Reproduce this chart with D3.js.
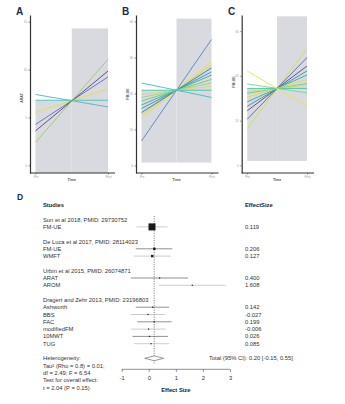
<!DOCTYPE html>
<html>
<head>
<meta charset="utf-8">
<script src="https://cdn.jsdelivr.net/npm/d3@7"></script>
<style>
  body { margin: 0; background: #fff; }
  svg { display: block; font-family: "Liberation Sans", Arial, sans-serif; }
</style>
</head>
<body>
<svg id="chart"></svg>
<script>
// ---- data: slope panels (Pre -> Post) ----
const timeLabels = ["Pre", "Post"];

const preA  = [7.40, 6.80, 5.52, 4.27, 3.60, 2.40];
const postA = [6.10, 6.80, 7.98, 9.23, 9.85, 11.07];
const colorsA = ["#5aaec8", "#3cc4b4", "#e6dc4a", "#5a70b8", "#5b3d84", "#8fd064"];
const shadeA = [-0.8, 6.8, 14.3];          // bottom, centre, top of grey boxes
const ticksA = [0, 5, 10, 15];

const preB  = [6.8, 13.1, 14.0, 14.7, 15.8, 16.8, 17.9, 18.9, 19.8, 20.9, 22.9];
const postB = [35.0, 28.8, 27.9, 27.1, 26.0, 25.1, 23.9, 22.9, 22.0, 20.9, 18.9];
const colorsB = ["#4f86c0", "#e8e040", "#c9dc55", "#3f6fb0", "#2a98a8", "#35aaa0",
                 "#6acb7c", "#9ad282", "#d9da62", "#40c0b0", "#48b8c8"];
const shadeB = [0.8, 20.9, 40.8];
const ticksB = [0, 10, 20, 30, 40];

const preC  = [8.2, 10.3, 12.2, 13.2, 14.2, 15.2, 16.1, 16.5, 17.2, 18.2, 21.1];
const postC = [26.1, 24.1, 22.2, 21.1, 20.2, 19.2, 18.3, 17.9, 17.2, 16.2, 13.2];
const colorsC = ["#c8e048", "#5566b0", "#5b3d84", "#2a98a8", "#35aaa0", "#e6d84a",
                 "#6acb7c", "#d9da62", "#40c0b0", "#7cd48a", "#f0e048"];
const shadeC = [1.0, 17.2, 33.3];
const ticksC = [0, 10, 20, 30];

// ---- data: forest plot ----
const studyHeaders = [
  { row: 2,  text: "Sun et al 2018, PMID: 29730752" },
  { row: 5,  text: "De Luca et al 2017, PMID: 28114023" },
  { row: 9,  text: "Urbin et al 2015, PMID: 26074871" },
  { row: 13, text: "Dragert and Zehr 2013, PMID: 23196803" }
];
const outcomes  = ["FM-UE", "FM-UE", "WMFT", "ARAT", "AROM", "Ashworth", "BBS", "FAC", "modifiedFM", "10MWT", "TUG"];
const outRows   = [3, 6, 7, 10, 11, 14, 15, 16, 17, 18, 19];
const effects   = [0.119, 0.206, 0.127, 0.400, 1.608, 0.142, -0.027, 0.199, -0.006, 0.026, 0.085];
const ciLow     = [-0.45, -0.48, -0.55, -0.66, 0.38, -0.48, -0.66, -0.42, -0.64, -0.60, -0.54];
const ciHigh    = [0.69, 0.87, 0.81, 1.45, 2.84, 0.75, 0.59, 0.84, 0.63, 0.71, 0.75];
const effectTxt = ["0.119", "0.206", "0.127", "0.400", "1.608", "0.142", "-0.027", "0.199", "-0.006", "0.026", "0.085"];
const pooled    = [0.20, -0.15, 0.55];   // estimate, lower, upper
const hetText   = ["Heterogeneity:", "Tau\u00b2 (Rho = 0.8) = 0.01;", "df = 2.49; F = 6.54",
                   "Test for overall effect:", "t = 2.04 (P = 0.15)"];
const forestTicks = [-1, 0, 1, 2, 3];

const width = 345, height = 404;
const svg = d3.select("#chart").attr("width", width).attr("height", height);

const labelColor = "#1d2a4d";

// draws one slope panel
function slopePanel(opt) {
  const g = svg.append("g");
  const y = d3.scaleLinear().domain(opt.domain).range([173, 15]);
  const x = d3.scalePoint().domain(timeLabels).range([opt.x0 + 5.5, opt.x1 - 7]);
  const mid = (x("Pre") + x("Post")) / 2;

  // grey boxes
  g.append("rect")
    .attr("x", x("Pre")).attr("width", mid - x("Pre"))
    .attr("y", y(opt.shade[1])).attr("height", y(opt.shade[0]) - y(opt.shade[1]))
    .attr("fill", "#d9dadf");
  g.append("rect")
    .attr("x", mid).attr("width", x("Post") - mid)
    .attr("y", y(opt.shade[2])).attr("height", y(opt.shade[0]) - y(opt.shade[2]))
    .attr("fill", "#d9dadf");

  // lines
  g.selectAll("line.s")
    .data(opt.pre)
    .enter().append("line")
    .attr("class", "s")
    .attr("x1", x("Pre")).attr("x2", x("Post"))
    .attr("y1", d => y(d))
    .attr("y2", (d, i) => y(opt.post[i]))
    .attr("stroke", (d, i) => opt.colors[i])
    .attr("stroke-width", 0.9);

  // y axis
  const ya = g.append("g")
    .attr("transform", `translate(${opt.x0},0)`)
    .call(d3.axisLeft(y).tickValues(opt.ticks).tickSize(1.5).tickSizeOuter(0));
  ya.select(".domain").attr("stroke", "#333").attr("stroke-width", 1.2);
  ya.selectAll(".tick line").attr("stroke", "#888");
  ya.selectAll("text").attr("font-size", 3).attr("fill", "#999").attr("x", -3);

  // x axis
  const xa = g.append("g")
    .attr("transform", "translate(0,173)")
    .call(d3.axisBottom(x).tickSize(1.5).tickSizeOuter(0));
  xa.select(".domain").remove();
  xa.append("line").attr("x1", opt.x0).attr("x2", opt.x1)
    .attr("stroke", "#333").attr("stroke-width", 1.2);
  xa.selectAll(".tick line").attr("stroke", "#888");
  xa.selectAll("text").attr("font-size", 3).attr("fill", "#999").attr("y", 2.5);

  g.append("text")
    .attr("x", mid).attr("y", 181)
    .attr("text-anchor", "middle").attr("font-size", 3.6).attr("font-weight", "bold")
    .attr("fill", "#555").text("Time");
  g.append("text")
    .attr("transform", `translate(${opt.x0 - 7},${opt.ylabY}) rotate(-90)`)
    .attr("text-anchor", "middle").attr("font-size", 3.6).attr("font-weight", "bold")
    .attr("fill", "#555").text(opt.ylab);

  svg.append("text")
    .attr("x", opt.labX).attr("y", 15)
    .attr("font-size", 10).attr("font-weight", "bold")
    .attr("fill", labelColor).text(opt.letter);
}

slopePanel({ letter: "A", labX: 16, x0: 30, x1: 115, domain: [-0.8, 15.7], pre: preA, post: postA,
             colors: colorsA, shade: shadeA, ticks: ticksA, ylab: "ARAT", ylabY: 98 });
slopePanel({ letter: "B", labX: 122, x0: 136, x1: 218.5, domain: [-2.1, 41.8], pre: preB, post: postB,
             colors: colorsB, shade: shadeB, ticks: ticksB, ylab: "FM-UE", ylabY: 94 });
slopePanel({ letter: "C", labX: 228, x0: 241.7, x1: 314, domain: [-1.7, 33.6], pre: preC, post: postC,
             colors: colorsC, shade: shadeC, ticks: ticksC, ylab: "FM-UE", ylabY: 82 });

// ---- forest plot ----
const fx = d3.scaleLinear().domain([-1, 3]).range([121.7, 230]);
const row = i => 205 + i * 7.3;
const fsize = 5.8;
const fp = svg.append("g");

svg.append("text")
  .attr("x", 17).attr("y", 200)
  .attr("font-size", 8.5).attr("font-weight", "bold")
  .attr("fill", labelColor).text("D");

fp.append("text").attr("x", 43).attr("y", row(0) + 2)
  .attr("font-size", fsize).attr("font-weight", "bold").attr("fill", "#222").text("Studies");
fp.append("text").attr("x", 245).attr("y", row(0) + 2)
  .attr("font-size", fsize).attr("font-weight", "bold").attr("fill", "#222").text("EffectSize");

fp.selectAll("text.hdr")
  .data(studyHeaders)
  .enter().append("text")
  .attr("class", "hdr")
  .attr("x", 43).attr("y", d => row(d.row) + 2)
  .attr("font-size", fsize).attr("fill", "#333").text(d => d.text);

fp.selectAll("text.out")
  .data(outcomes)
  .enter().append("text")
  .attr("class", "out")
  .attr("x", 43).attr("y", (d, i) => row(outRows[i]) + 2)
  .attr("font-size", fsize).attr("fill", "#333").text(d => d);

fp.selectAll("text.val")
  .data(effectTxt)
  .enter().append("text")
  .attr("class", "val")
  .attr("x", 245).attr("y", (d, i) => row(outRows[i]) + 2)
  .attr("font-size", fsize).attr("fill", "#333").text(d => d);

// reference line at pooled estimate
fp.append("line")
  .attr("x1", fx(pooled[0])).attr("x2", fx(pooled[0]))
  .attr("y1", row(1.5)).attr("y2", row(21.7))
  .attr("stroke", "#333").attr("stroke-width", 0.6)
  .attr("stroke-dasharray", "1.2,1.2");

// CI lines
fp.selectAll("line.ci")
  .data(effects)
  .enter().append("line")
  .attr("class", "ci")
  .attr("x1", (d, i) => fx(ciLow[i])).attr("x2", (d, i) => fx(ciHigh[i]))
  .attr("y1", (d, i) => row(outRows[i])).attr("y2", (d, i) => row(outRows[i]))
  .attr("stroke", (d, i) => i % 2 === 0 ? "#aaa" : "#444")
  .attr("stroke-width", 0.6);

// point estimates (first one drawn large as in the original)
fp.selectAll("rect.pt")
  .data(effects)
  .enter().append("rect")
  .attr("class", "pt")
  .attr("width", (d, i) => i === 0 ? 7 : (i < 3 ? 2.4 : 1.2))
  .attr("height", (d, i) => i === 0 ? 7 : (i < 3 ? 2.4 : 1.2))
  .attr("x", function(d, i) { return fx(d) - d3.select(this).attr("width") / 2; })
  .attr("y", function(d, i) { return row(outRows[i]) - d3.select(this).attr("height") / 2; })
  .attr("fill", "#1a1a1a");

// pooled diamond
const dy = row(21);
fp.append("path")
  .attr("d", `M${fx(pooled[1])},${dy} L${fx(pooled[0])},${dy - 2.4} L${fx(pooled[2])},${dy} L${fx(pooled[0])},${dy + 2.4} Z`)
  .attr("fill", "#fff").attr("stroke", "#555").attr("stroke-width", 0.6);

fp.append("text").attr("x", 209).attr("y", dy + 2)
  .attr("font-size", fsize).attr("fill", "#333")
  .text("Total (95% CI): 0.20 [-0.15, 0.55]");

fp.selectAll("text.het")
  .data(hetText)
  .enter().append("text")
  .attr("class", "het")
  .attr("x", 43).attr("y", (d, i) => row(21 + i) + 2)
  .attr("font-size", fsize).attr("fill", "#333").text(d => d);

// x axis of forest plot
const fa = fp.append("g")
  .attr("transform", "translate(0,369.3)")
  .call(d3.axisBottom(fx).tickValues(forestTicks).tickSize(2.5).tickFormat(d3.format("d")));
fa.select(".domain").attr("stroke", "#444").attr("stroke-width", 0.6).attr("d", `M${fx(-1)},0H${fx(3)}`);
fa.selectAll(".tick line").attr("stroke", "#444").attr("stroke-width", 0.6);
fa.selectAll("text").attr("font-size", fsize).attr("fill", "#333").attr("y", 7).text(d => d < 0 ? "-" + Math.abs(d) : d);

fp.append("text").attr("x", fx(1)).attr("y", 392)
  .attr("text-anchor", "middle").attr("font-size", fsize).attr("font-weight", "bold")
  .attr("fill", "#222").text("Effect Size");
</script>
</body>
</html>
